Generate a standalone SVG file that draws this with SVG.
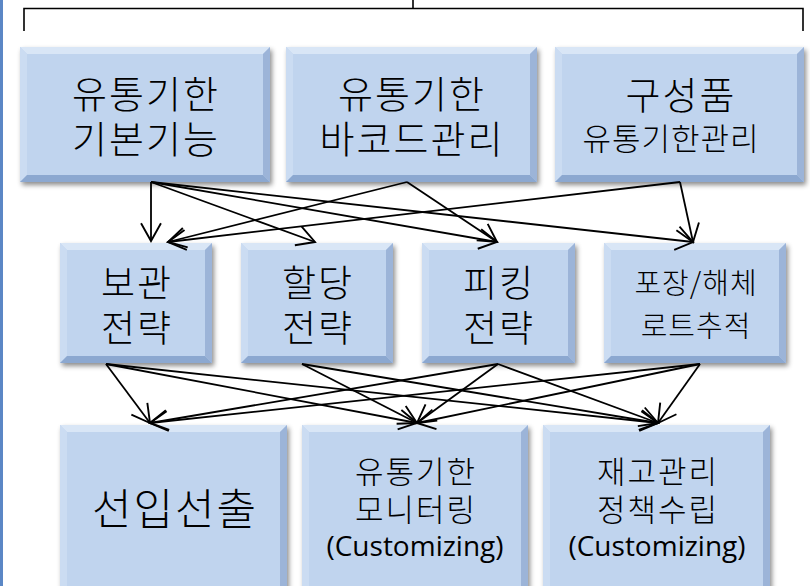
<svg xmlns="http://www.w3.org/2000/svg" width="810" height="586" viewBox="0 0 810 586">
<defs>
<style>
.face{fill:#c0d4ee}
.bt{fill:#d9e6f6}
.bl{fill:#cbdcf2}
.br{fill:#9cb4d8}
.bb{fill:#8ca8d0}
.t{font-family:"Open Sans","Noto Sans CJK KR",sans-serif;fill:#000;text-anchor:middle}
.k{font-family:"Noto Sans CJK KR",sans-serif;font-weight:300;fill:#000;text-anchor:middle}
.c{fill:none;stroke:#000;stroke-width:1.8}
.br2{fill:none;stroke:#000;stroke-width:1.6}
</style>
<filter id="sh" x="-10%" y="-10%" width="125%" height="130%">
<feDropShadow dx="2" dy="3" stdDeviation="2.5" flood-color="#000" flood-opacity="0.45"/>
</filter>
<marker id="ah" markerUnits="userSpaceOnUse" markerWidth="22" markerHeight="24" viewBox="-19 -11 21 22" refX="0" refY="0" orient="auto">
<path d="M-17,-9.5 L0,0 L-17,9.5" fill="none" stroke="#000" stroke-width="1.8"/>
</marker>
</defs>
<rect x="0" y="0" width="810" height="586" fill="#fff"/>
<rect x="0" y="0" width="3" height="586" fill="#5b87c5"/>
<g id="bracket">
<path class="br2" d="M24,31 V8.5 H803 V31 M413,0 V8.5"/>
</g>

<g id="n1" filter="url(#sh)">
<rect class="face" x="20" y="47" width="250" height="135"/>
<polygon class="bt" points="20,47 270,47 263,54 27,54"/>
<polygon class="bl" points="20,47 27,54 27,175 20,182"/>
<polygon class="br" points="270,47 270,182 263,175 263,54"/>
<polygon class="bb" points="20,182 270,182 263,175 27,175"/>
</g>
<g id="n1t"><text class="k" x="146" y="108" font-size="38" letter-spacing="2">유통기한</text><text class="k" x="146" y="153" font-size="38" letter-spacing="2">기본기능</text></g>

<g id="n2" filter="url(#sh)">
<rect class="face" x="286" y="47" width="251" height="135"/>
<polygon class="bt" points="286,47 537,47 530,54 293,54"/>
<polygon class="bl" points="286,47 293,54 293,175 286,182"/>
<polygon class="br" points="537,47 537,182 530,175 530,54"/>
<polygon class="bb" points="286,182 537,182 530,175 293,175"/>
</g>
<g id="n2t"><text class="k" x="412" y="108" font-size="38" letter-spacing="2">유통기한</text><text class="k" x="412" y="153" font-size="38" letter-spacing="2">바코드관리</text></g>

<g id="n3" filter="url(#sh)">
<rect class="face" x="555" y="47" width="249" height="135"/>
<polygon class="bt" points="555,47 804,47 797,54 562,54"/>
<polygon class="bl" points="555,47 562,54 562,175 555,182"/>
<polygon class="br" points="804,47 804,182 797,175 797,54"/>
<polygon class="bb" points="555,182 804,182 797,175 562,175"/>
</g>
<g id="n3t"><text class="k" x="681" y="109" font-size="38" letter-spacing="2">구성품</text><text class="k" x="671" y="150" font-size="31" letter-spacing="1">유통기한관리</text></g>

<g id="m1" filter="url(#sh)">
<rect class="face" x="60" y="243" width="152" height="120"/>
<polygon class="bt" points="60,243 212,243 205,250 67,250"/>
<polygon class="bl" points="60,243 67,250 67,356 60,363"/>
<polygon class="br" points="212,243 212,363 205,356 205,250"/>
<polygon class="bb" points="60,363 212,363 205,356 67,356"/>
</g>
<g id="m1t"><text class="k" x="137" y="297" font-size="37" letter-spacing="2">보관</text><text class="k" x="137" y="342" font-size="37" letter-spacing="2">전략</text></g>

<g id="m2" filter="url(#sh)">
<rect class="face" x="241" y="243" width="152" height="120"/>
<polygon class="bt" points="241,243 393,243 386,250 248,250"/>
<polygon class="bl" points="241,243 248,250 248,356 241,363"/>
<polygon class="br" points="393,243 393,363 386,356 386,250"/>
<polygon class="bb" points="241,363 393,363 386,356 248,356"/>
</g>
<g id="m2t"><text class="k" x="318" y="297" font-size="37" letter-spacing="2">할당</text><text class="k" x="318" y="342" font-size="37" letter-spacing="2">전략</text></g>

<g id="m3" filter="url(#sh)">
<rect class="face" x="422" y="243" width="153" height="120"/>
<polygon class="bt" points="422,243 575,243 568,250 429,250"/>
<polygon class="bl" points="422,243 429,250 429,356 422,363"/>
<polygon class="br" points="575,243 575,363 568,356 568,250"/>
<polygon class="bb" points="422,363 575,363 568,356 429,356"/>
</g>
<g id="m3t"><text class="k" x="499" y="297" font-size="37" letter-spacing="2">피킹</text><text class="k" x="499" y="342" font-size="37" letter-spacing="2">전략</text></g>

<g id="m4" filter="url(#sh)">
<rect class="face" x="604" y="243" width="182" height="120"/>
<polygon class="bt" points="604,243 786,243 779,250 611,250"/>
<polygon class="bl" points="604,243 611,250 611,356 604,363"/>
<polygon class="br" points="786,243 786,363 779,356 779,250"/>
<polygon class="bb" points="604,363 786,363 779,356 611,356"/>
</g>
<g id="m4t"><text class="k" x="696" y="294" font-size="29" letter-spacing="1">포장/해체</text><text class="k" x="696" y="337" font-size="29" letter-spacing="1">로트추적</text></g>

<g id="b1" filter="url(#sh)">
<rect class="face" x="60" y="425" width="227" height="175"/>
<polygon class="bt" points="60,425 287,425 280,432 67,432"/>
<polygon class="bl" points="60,425 67,432 67,600 60,600"/>
<polygon class="br" points="287,425 287,600 280,600 280,432"/>
</g>
<g id="b1t"><text class="k" x="175" y="525" font-size="43" letter-spacing="2">선입선출</text></g>

<g id="b2" filter="url(#sh)">
<rect class="face" x="302" y="425" width="226" height="175"/>
<polygon class="bt" points="302,425 528,425 521,432 309,432"/>
<polygon class="bl" points="302,425 309,432 309,600 302,600"/>
<polygon class="br" points="528,425 528,600 521,600 521,432"/>
</g>
<g id="b2t"><text class="k" x="416" y="483" font-size="31" letter-spacing="2">유통기한</text><text class="k" x="416" y="521" font-size="31" letter-spacing="2">모니터링</text><text class="t" x="415" y="556" font-size="28">(Customizing)</text></g>

<g id="b3" filter="url(#sh)">
<rect class="face" x="543" y="425" width="227" height="175"/>
<polygon class="bt" points="543,425 770,425 763,432 550,432"/>
<polygon class="bl" points="543,425 550,432 550,600 543,600"/>
<polygon class="br" points="770,425 770,600 763,600 763,432"/>
</g>
<g id="b3t"><text class="k" x="658" y="483" font-size="31" letter-spacing="2">재고관리</text><text class="k" x="658" y="521" font-size="31" letter-spacing="2">정책수립</text><text class="t" x="657" y="556" font-size="28">(Customizing)</text></g>

<g id="connectors">
<line class="c" x1="151" y1="182" x2="151" y2="241" marker-end="url(#ah)"/>
<line class="c" x1="151" y1="182" x2="315" y2="242" marker-end="url(#ah)"/>
<line class="c" x1="151" y1="182" x2="497" y2="242" marker-end="url(#ah)"/>
<line class="c" x1="151" y1="182" x2="693" y2="242" marker-end="url(#ah)"/>
<line class="c" x1="407" y1="182" x2="168" y2="242" marker-end="url(#ah)"/>
<line class="c" x1="407" y1="182" x2="497" y2="242" marker-end="url(#ah)"/>
<line class="c" x1="680" y1="182" x2="168" y2="242" marker-end="url(#ah)"/>
<line class="c" x1="680" y1="182" x2="693" y2="242" marker-end="url(#ah)"/>

<line class="c" x1="106" y1="364" x2="150" y2="423" marker-end="url(#ah)"/>
<line class="c" x1="106" y1="364" x2="417" y2="423" marker-end="url(#ah)"/>
<line class="c" x1="106" y1="364" x2="658" y2="423" marker-end="url(#ah)"/>
<line class="c" x1="302" y1="364" x2="417" y2="423" marker-end="url(#ah)"/>
<line class="c" x1="302" y1="364" x2="658" y2="423" marker-end="url(#ah)"/>
<line class="c" x1="498" y1="364" x2="150" y2="423" marker-end="url(#ah)"/>
<line class="c" x1="498" y1="364" x2="417" y2="423" marker-end="url(#ah)"/>
<line class="c" x1="498" y1="364" x2="658" y2="423" marker-end="url(#ah)"/>
<line class="c" x1="700" y1="364" x2="150" y2="423" marker-end="url(#ah)"/>
<line class="c" x1="700" y1="364" x2="417" y2="423" marker-end="url(#ah)"/>
<line class="c" x1="700" y1="364" x2="658" y2="423" marker-end="url(#ah)"/>
</g>
</svg>
